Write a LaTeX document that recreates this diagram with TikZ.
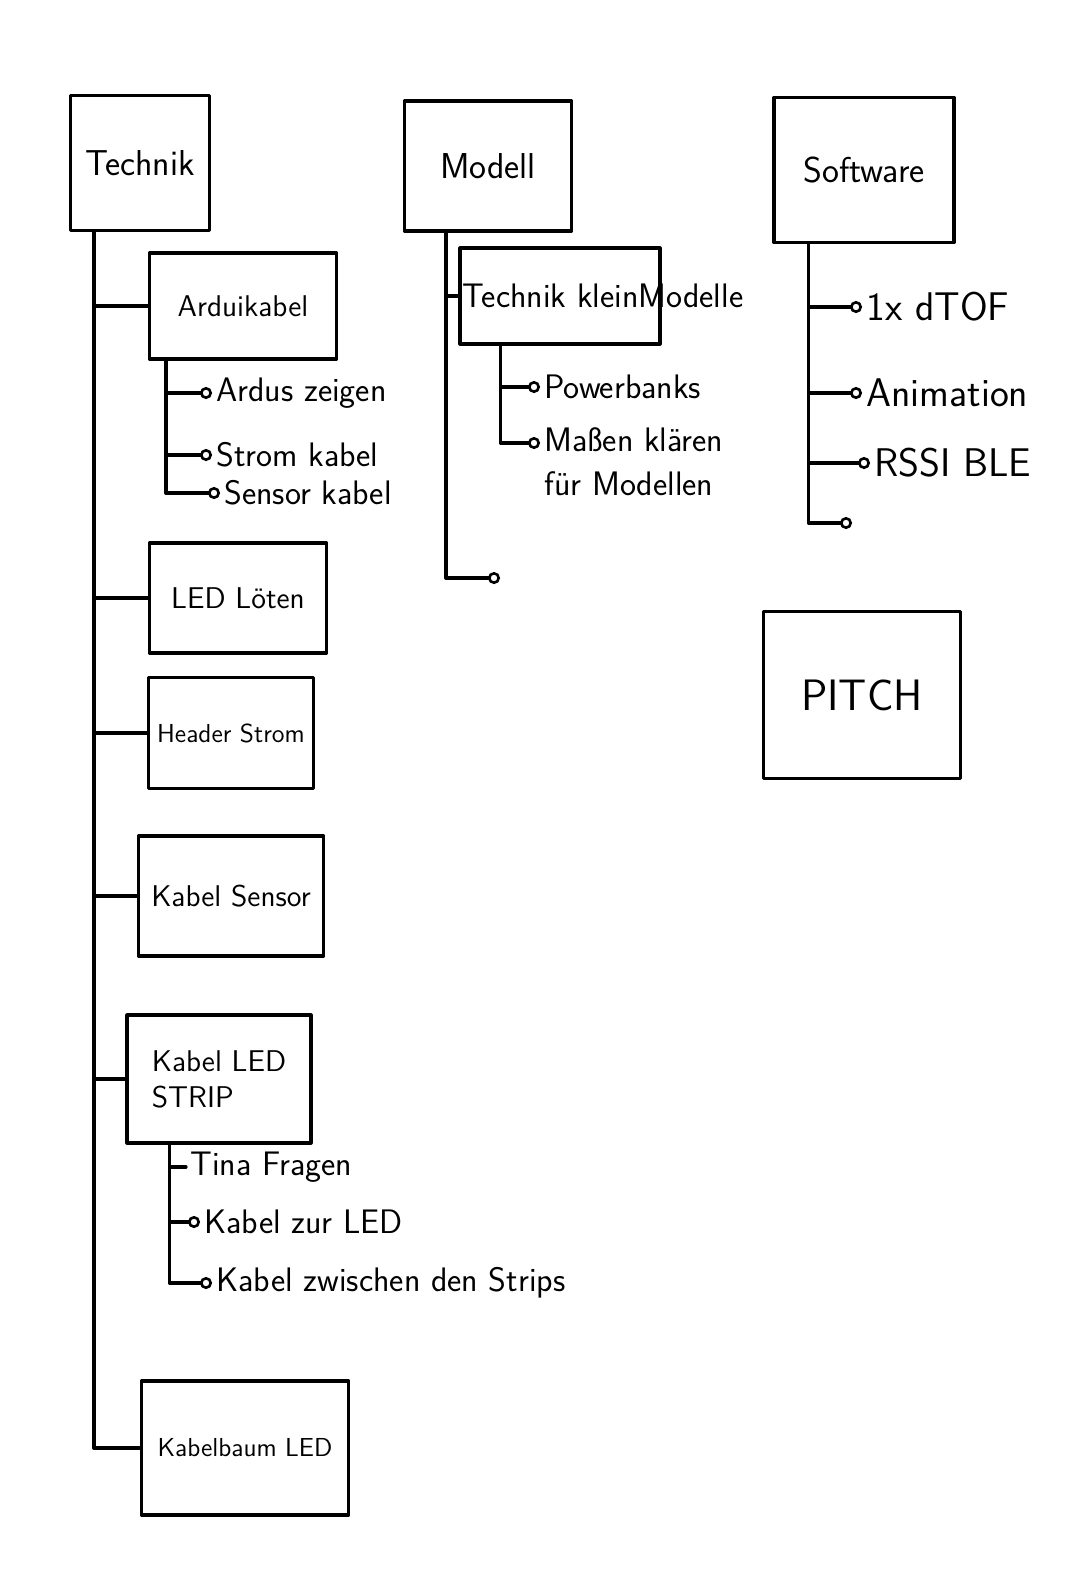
\documentclass[tikz,border=0pt]{standalone}
\usetikzlibrary{arrows.meta,positioning}

\begin{document}
\begin{tikzpicture}[
    x=0.5pt, y=-0.5pt,
    link/.style={line width=1.6pt, line cap=round, line join=round},
    leaf/.style={link, -{Circle[open, length=6pt, line width=1.3pt]}},
    box/.style={draw, link, inner sep=2pt, align=center, font=\sffamily\fontsize{15}{18}\selectfont},
    bigbox/.style={box, font=\sffamily\fontsize{18}{21}\selectfont},
    smallbox/.style={box, font=\sffamily\fontsize{13}{16}\selectfont},
    note/.style={anchor=west, inner sep=2pt, align=left, font=\sffamily\fontsize{17}{22}\selectfont},
    bignote/.style={note, font=\sffamily\fontsize{20}{24}\selectfont}
]
\useasboundingbox (0,0) rectangle (1080,1587);

% ---- top level boxes ----
\node[bigbox, minimum width=69.5pt, minimum height=67.5pt] (technik) at (140,163) {Technik};
\node[bigbox, minimum width=83.5pt, minimum height=65pt] (modell) at (488,166) {Modell};
\node[bigbox, minimum width=90pt, minimum height=72.5pt] (software) at (864,170) {Software};
\node[box, minimum width=98.5pt, minimum height=83.5pt, font=\sffamily\fontsize{22}{26}\selectfont] (pitch) at (862,695) {PITCH};

% ---- Technik lane ----
\node[box, minimum width=93.5pt, minimum height=53pt] (arduikabel) at (243,306) {Arduikabel};
\node[box, minimum width=88.5pt, minimum height=55pt] (ledloeten) at (238,598) {LED Löten};
\node[smallbox, minimum width=82.5pt, minimum height=55.5pt] (headerstrom) at (231,733) {Header Strom};
\node[box, minimum width=92.5pt, minimum height=60pt] (kabelsensor) at (231,896) {Kabel Sensor};
\node[box, minimum width=92pt, minimum height=64pt, align=left] (kabelstrip) at (219,1079) {Kabel LED\\STRIP};
\node[smallbox, minimum width=103.5pt, minimum height=67pt] (kabelbaum) at (245,1448) {Kabelbaum LED};

\coordinate (technik-stamm) at ([xshift=12.5pt]technik.south west);
\draw[link] (technik-stamm) |- (arduikabel.west);
\draw[link] (technik-stamm) |- (ledloeten.west);
\draw[link] (technik-stamm) |- (headerstrom.west);
\draw[link] (technik-stamm) |- (kabelsensor.west);
\draw[link] (technik-stamm) |- (kabelstrip.west);
\draw[link] (technik-stamm) |- (kabelbaum.west);

% Arduikabel items
\node[note] (zeigen) at (212,393) {Ardus zeigen};
\node[note] (stromkabel) at (212,455) {Strom kabel};
\node[note] (sensorkabel) at (220,493) {Sensor kabel};
\coordinate (ardui-stamm) at ([xshift=9pt]arduikabel.south west);
\draw[leaf] (ardui-stamm) |- (zeigen.west);
\draw[leaf] (ardui-stamm) |- (stromkabel.west);
\draw[leaf] (ardui-stamm) |- (sensorkabel.west);

% LED strip items
\node[note] (fragen) at (186,1167) {Tina Fragen};
\node[note] (zurled) at (200,1222) {Kabel zur LED};
\node[note] (zwischen) at (212,1283) {Kabel zwischen den Strips};
\coordinate (strip-stamm) at ([xshift=22pt]kabelstrip.south west);
\draw[link] (strip-stamm) |- (fragen.west);
\draw[leaf] (strip-stamm) |- (zurled.west);
\draw[leaf] (strip-stamm) |- (zwischen.west);

% ---- Modell lane ----
\node[box, minimum width=100pt, minimum height=48pt] (kleinmodell) at (560,296) {};
\node[note, right=0pt of kleinmodell.west] (kleinmodelltext) {Technik kleinModelle};
\coordinate (modell-stamm) at ([xshift=21.5pt]modell.south west);
\coordinate (modell-leer) at (500,578);
\draw[link] (modell-stamm) |- (kleinmodell.west);
\draw[leaf] (modell-stamm) |- (modell-leer);

\node[note] (powerbanks) at (540,387) {Powerbanks};
\node[note, anchor=north west] (masse) at (540,423) {Maßen klären\\für Modellen};
\coordinate (klein-stamm) at ([xshift=21pt]kleinmodell.south west);
\draw[leaf] (klein-stamm) |- (powerbanks.west);
\draw[leaf] (klein-stamm) |- ([yshift=-10pt]masse.north west);

% ---- Software lane ----
\node[bignote] (dtof) at (862,307) {1x dTOF};
\node[bignote] (animation) at (862,393) {Animation};
\node[bignote] (rssi) at (870,463) {RSSI BLE};
\coordinate (software-leer) at (852,523);
\coordinate (software-stamm) at ([xshift=18pt]software.south west);
\draw[leaf] (software-stamm) |- (dtof.west);
\draw[leaf] (software-stamm) |- (animation.west);
\draw[leaf] (software-stamm) |- (rssi.west);
\draw[leaf] (software-stamm) |- (software-leer);

\end{tikzpicture}
\end{document}
